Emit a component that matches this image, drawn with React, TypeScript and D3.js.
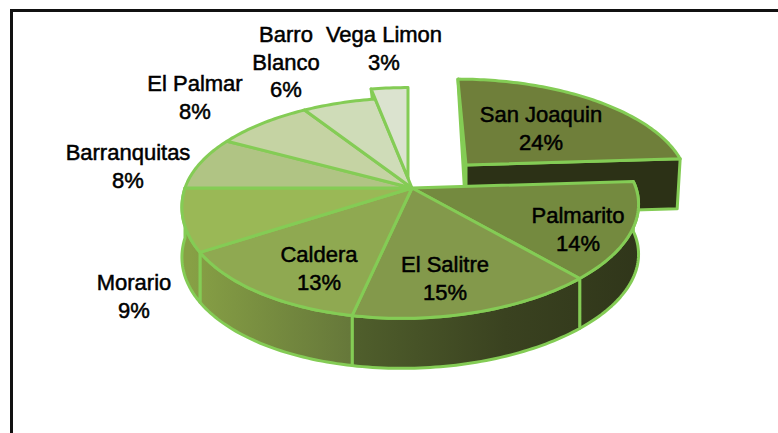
import React from "react";
import * as d3 from "d3";

const categories = ["San Joaquin", "Palmarito", "El Salitre", "Caldera", "Morario", "Barranquitas", "El Palmar", "Barro Blanco", "Vega Limon"];
const values = [24, 14, 15, 13, 9, 8, 8, 6, 3];
const fills = ["#6f7f3a", "#748a3f", "#83994b", "#8fa951", "#9ab856", "#b0c484", "#c5d3a3", "#cfdcb8", "#dbe3cf"];
const offsets: [number, number][] = [[54, -23], [0, 0], [0, 0], [0, 0], [0, 0], [0, 0], [0, 0], [0, 0], [-4, -10]];
const labelLines = [["San Joaquin", "24%"], ["Palmarito", "14%"], ["El Salitre", "15%"], ["Caldera", "13%"], ["Morario", "9%"], ["Barranquitas", "8%"], ["El Palmar", "8%"], ["Barro", "Blanco", "6%"], ["Vega Limon", "3%"]];
const labelPos: [number, number][] = [[541, 122], [578, 223], [445, 272], [319, 262], [134, 290], [128, 160], [195, 91], [286, 42], [384, 42]];

const CX = 412, CY = 188, RX = 224, RY = 110, K = 0.156, DEPTH = 50;
const STROKE = "#84cc55";
const wallFill = "#2c3116";

function project(theta: number): [number, number] {
  const u = Math.sin(theta), v = -Math.cos(theta);
  const p = 1 / (1 - K * v);
  const rx = u < 0 ? RX + 3 : RX;
  const ry = v < 0 ? RY * 0.95 : RY;
  const lean = v > 0 ? 10 * v * v : 0;
  return [CX + rx * u * p - lean, CY + ry * v * p];
}

// the exploded slice is drawn a little smaller and leans to the left
function projectExploded(theta: number): [number, number] {
  const [x, y] = project(theta);
  const dy = y - CY;
  return [CX + (x - CX) * 0.97 + 0.09 * dy + offsets[0][0], CY + dy * 0.95 + offsets[0][1]];
}

const slices = d3.pie<number>().sort(null)(values);
const line = d3.line();

function arcPoints(a0: number, a1: number, proj = project) {
  const n = Math.max(2, Math.ceil((a1 - a0) / 0.02));
  return d3.range(n + 1).map((i) => proj(a0 + ((a1 - a0) * i) / n));
}
function topPath(a0: number, a1: number) {
  return line([[CX, CY], ...arcPoints(a0, a1)])! + "Z";
}
function wallPath(a0: number, a1: number) {
  const pts = arcPoints(a0, a1);
  const low = pts.map(([x, y]) => [x, y + DEPTH] as [number, number]).reverse();
  return line([...pts, ...low])! + "Z";
}

export default function App() {
  const s0 = slices[0];
  const vega = slices[8];
  const c0: [number, number] = [CX + offsets[0][0], CY + offsets[0][1]];
  const tip0 = projectExploded(s0.startAngle);
  const end0 = projectExploded(s0.endAngle);
  const vegaLeft = project(vega.startAngle);
  return (
    <svg width={778} height={433} style={{ position: "absolute", left: 0, top: 0, background: "#fff" }}>
      <defs>
        <linearGradient id="wall" gradientUnits="userSpaceOnUse" x1={190} x2={640} y1={0} y2={0}>
          <stop offset="0" stopColor="#87a045" />
          <stop offset="0.355" stopColor="#66783a" />
          <stop offset="0.36" stopColor="#505f2c" />
          <stop offset="0.7" stopColor="#3a4220" />
          <stop offset="1" stopColor="#30361a" />
        </linearGradient>
      </defs>
      <path d="M11.5,433V10.5H778" fill="none" stroke="#111" strokeWidth={3} />
      {/* exploded San Joaquin */}
      <g stroke={STROKE} strokeWidth={3} strokeLinejoin="round">
        <path d={line([tip0, [c0[0], c0[1] + DEPTH], c0])! + "Z"} fill={wallFill} />
        <path d={line([c0, end0, [end0[0] - 3, end0[1] + DEPTH], [c0[0], c0[1] + DEPTH]])! + "Z"} fill={wallFill} />
        <path d={line([c0, ...arcPoints(s0.startAngle, s0.endAngle, projectExploded)])! + "Z"} fill={fills[0]} />
      </g>
      {/* walls of the main body */}
      <g stroke={STROKE} strokeWidth={3} strokeLinejoin="round">
        {slices.slice(1, 5).map((s, i) => (
          <path key={i} d={wallPath(s.startAngle, s.endAngle)} fill="url(#wall)" />
        ))}
      </g>
      {/* cut face of Vega Limon */}
      <path
        transform={`translate(${offsets[8][0]},${offsets[8][1]})`}
        d={line([[CX, CY], vegaLeft, [vegaLeft[0] + 2, vegaLeft[1] + 16]])! + "Z"}
        fill="#6f7a50" stroke={STROKE} strokeWidth={3} strokeLinejoin="round"
      />
      {/* top faces */}
      <g stroke={STROKE} strokeWidth={3} strokeLinejoin="round">
        {slices.map((s, i) =>
          i === 0 ? null : (
            <path key={i} transform={`translate(${offsets[i][0]},${offsets[i][1]})`} d={topPath(s.startAngle, s.endAngle)} fill={fills[i]} />
          )
        )}
      </g>
      <g fontFamily="Liberation Sans, Arial, sans-serif" fontSize={22} fill="#000" stroke="#000" strokeWidth={0.5} textAnchor="middle">
        {labelLines.map((ls, i) => (
          <text key={categories[i]} x={labelPos[i][0]} y={labelPos[i][1]}>
            {ls.map((t, j) => (
              <tspan key={j} x={labelPos[i][0]} dy={j === 0 ? 0 : 27.5}>{t}</tspan>
            ))}
          </text>
        ))}
      </g>
    </svg>
  );
}
